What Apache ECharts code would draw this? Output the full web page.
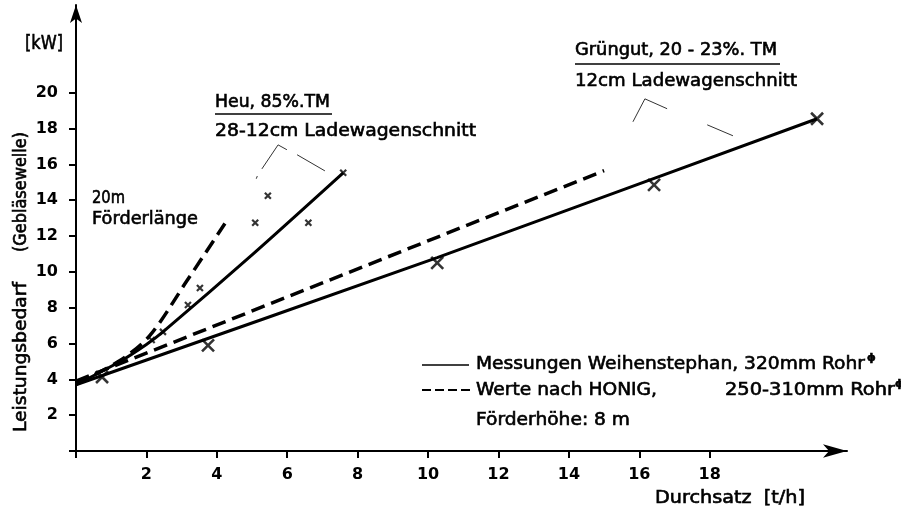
<!DOCTYPE html>
<html>
<head>
<meta charset="utf-8">
<script src="https://cdn.jsdelivr.net/npm/echarts@6/dist/echarts.min.js"></script>
<style>
  html, body { margin: 0; padding: 0; background: #fff; }
  #chart { width: 901px; height: 515px; }
</style>
</head>
<body>
<div id="chart"></div>
<script>
// Tick labels
const xTicks = [2, 4, 6, 8, 10, 12, 14, 16, 18];
const yTicks = [2, 4, 6, 8, 10, 12, 14, 16, 18, 20];

// Grüngut, 20-23 % TM: measured line (Weihenstephan) and HONIG values
const gruenMess = [[0, 3.7], [10.26, 10.8], [21.05, 18.55]];
const gruenHonig = [[0, 3.9], [15.0, 15.65]];
// Heu, 85 % TM: measured curve and HONIG values (20 m Förderlänge)
const heuMess = [[0, 3.7], [1.25, 5.0], [2.0, 5.95], [2.47, 6.65], [5.0, 10.95], [7.59, 15.53]];
const heuHonig = [[0, 3.75], [1.25, 5.05], [2.1, 6.45], [3.15, 9.5], [4.23, 12.7]];

// Measured points
const gruenPoints = [[0.74, 4.13], [3.75, 5.9], [10.26, 10.5], [16.42, 14.86], [21.05, 18.55]];
const heuPoints = [[2.15, 6.2], [2.47, 6.65], [3.18, 8.15], [3.52, 9.1], [5.09, 12.74], [5.45, 14.25], [6.6, 12.74], [7.59, 15.53]];

// Leader lines from the labels to the curves (data units)
const heuLeaderA = [[5.12, 15.2], [5.15, 15.35]];
const heuLeaderB = [[5.28, 15.75], [5.74, 17.09], [5.99, 16.82]];
const heuLeaderC = [[6.28, 16.54], [7.07, 15.64]];
const gruenLeaderA = [[15.82, 18.38], [16.16, 19.66], [16.79, 19.11]];
const gruenLeaderB = [[17.93, 18.21], [18.66, 17.6]];

const INK = '#000';
const FAMILY = '"DejaVu Sans", sans-serif';
const FONT = '17px ' + FAMILY;
const CROSS = 'path://M0,0L10,10M10,0L0,10';

// Canvas text measuring, used to stretch the lettering to its set width
const measureCtx = document.createElement('canvas').getContext('2d');
function textWidth(s, font) {
  measureCtx.font = font;
  return measureCtx.measureText(s).width;
}

function curve(data, width, dashed, smooth) {
  return {
    type: 'line', data: data, showSymbol: false, silent: true,
    smooth: smooth || false,
    lineStyle: { color: INK, width: width, type: dashed ? [14, 7] : 'solid', cap: 'butt' },
    z: 3
  };
}
function leader(data) {
  return {
    type: 'line', data: data, showSymbol: false, silent: true,
    lineStyle: { color: '#333', width: 1 }, z: 2
  };
}
function crosses(data, size, width) {
  return {
    type: 'scatter', data: data, symbol: CROSS, symbolSize: size, silent: true,
    itemStyle: { color: 'transparent', borderColor: INK, borderWidth: width }, z: 4
  };
}
// Left-aligned label, stretched horizontally to span `width` pixels
function txt(x, y, s, width, font, rotation) {
  font = font || FONT;
  const sx = width ? width / textWidth(s, font) : 1;
  return {
    type: 'text', x: x, y: y, scaleX: sx, rotation: rotation || 0, silent: true, z: 10,
    style: {
      text: s, fill: INK, stroke: INK, lineWidth: 0.6, font: font,
      align: rotation ? 'center' : 'left', verticalAlign: 'middle'
    }
  };
}
function rule(x1, y1, x2, y2, width, dash) {
  return {
    type: 'line', silent: true, z: 10,
    shape: { x1: x1, y1: y1, x2: x2, y2: y2 },
    style: { stroke: INK, lineWidth: width, lineDash: dash || null }
  };
}

const chart = echarts.init(document.getElementById('chart'), null, { renderer: 'canvas' });

chart.setOption({
  animation: false,
  backgroundColor: '#fff',
  grid: { left: 76, right: 54, top: 5, bottom: 64 },
  xAxis: {
    type: 'value', min: 0, max: 21.9,
    splitLine: { show: false },
    axisLine: { show: true, onZero: false, symbol: ['none', 'arrow'], symbolSize: [10, 24],
      lineStyle: { color: INK, width: 2 } },
    axisTick: { show: true, customValues: [0].concat(xTicks), length: 7,
      lineStyle: { color: INK, width: 2 } },
    axisLabel: { customValues: xTicks, margin: 16, color: INK, fontSize: 16,
      fontFamily: FAMILY, fontWeight: 'bold' }
  },
  yAxis: {
    type: 'value', min: 0, max: 24.9,
    splitLine: { show: false },
    axisLine: { show: true, onZero: false, symbol: ['none', 'arrow'], symbolSize: [9, 18],
      lineStyle: { color: INK, width: 2 } },
    axisTick: { show: true, customValues: [0].concat(yTicks), length: 7,
      lineStyle: { color: INK, width: 2 } },
    axisLabel: { customValues: yTicks, margin: 18, color: INK, fontSize: 16,
      fontFamily: FAMILY, fontWeight: 'bold' }
  },
  series: [
    curve(gruenMess, 3, false, 0.2),
    curve(gruenHonig, 3.5, true),
    curve(heuMess, 3, false, 0.25),
    curve(heuHonig, 3.5, true, 0.3),
    crosses(gruenPoints, 12, 2.6),
    crosses(heuPoints, 6, 2.2),
    leader(heuLeaderA), leader(heuLeaderB), leader(heuLeaderC),
    leader(gruenLeaderA), leader(gruenLeaderB)
  ],
  graphic: [
    txt(25, 44, '[kW]', 38, '19px ' + FAMILY),
    txt(22, 357, 'Leistungsbedarf', 150, FONT, Math.PI / 2),
    txt(22, 192, '(Gebläsewelle)', 120, FONT, Math.PI / 2),

    txt(92, 199, '20m', 33),
    txt(92, 220, 'Förderlänge', 106),

    txt(215, 103, 'Heu, 85%.TM', 115),
    rule(215, 114, 332, 114, 1.5),
    txt(215, 132, '28-12cm Ladewagenschnitt', 261),

    txt(575, 51, 'Grüngut, 20 - 23%. TM', 202),
    rule(575, 64, 780, 64, 1.5),
    txt(575, 82, '12cm Ladewagenschnitt', 222),

    rule(422, 365, 469, 365, 1.5),
    txt(476, 365, 'Messungen Weihenstephan, 320mm Rohr', 389),
    txt(867, 358, 'ϕ', 0, 'bold 11px ' + FAMILY),
    rule(422, 390, 470, 390, 2, [9, 4]),
    txt(476, 391, 'Werte nach HONIG,', 181),
    txt(725, 391, '250-310mm Rohr', 170),
    txt(895, 384, 'ϕ', 0, 'bold 11px ' + FAMILY),
    txt(476, 421, 'Förderhöhe: 8 m', 154),

    txt(655, 499, 'Durchsatz  [t/h]', 150)
  ]
});
</script>
</body>
</html>
